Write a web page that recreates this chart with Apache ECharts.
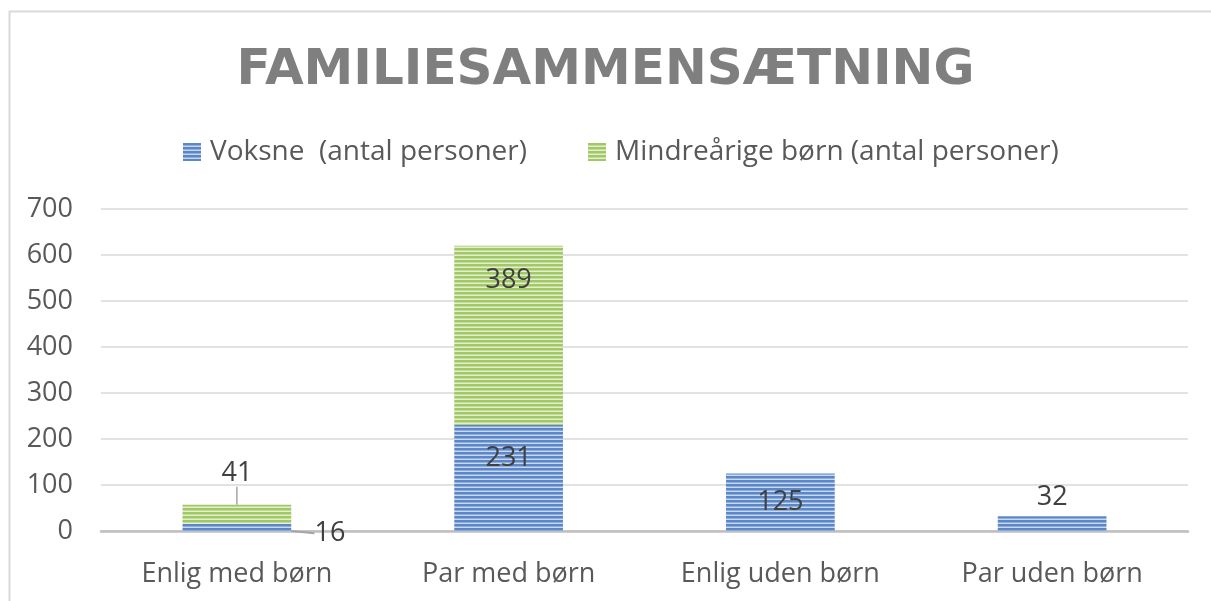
<!DOCTYPE html>
<html>
<head>
<meta charset="utf-8">
<script src="https://cdn.jsdelivr.net/npm/echarts@6/dist/echarts.min.js"></script>
<style>
html,body{margin:0;padding:0;background:#fff;}
#chart{width:1211px;height:601px;}
</style>
</head>
<body>
<div id="chart"></div>
<script>
// ---- data ----
var categories = ['Enlig med børn', 'Par med børn', 'Enlig uden børn', 'Par uden børn'];
var adults = [16, 231, 125, 32];
var children = [41, 389, 0, 0];
var seriesNames = ['Voksne  (antal personer)', 'Mindreårige børn (antal personer)'];
var yTicks = { min: 0, max: 700, interval: 100 };
var titleText = 'FAMILIESAMMENSÆTNING';

function stripe(dark, mid, light) {
  var c = document.createElement('canvas');
  c.width = 4; c.height = 4;
  var ctx = c.getContext('2d');
  ctx.fillStyle = dark; ctx.fillRect(0, 0, 4, 2);
  ctx.fillStyle = mid; ctx.fillRect(0, 2, 4, 1);
  ctx.fillStyle = light; ctx.fillRect(0, 3, 4, 1);
  return { image: c, repeat: 'repeat' };
}
var bluePattern = stripe('#5b87c9', '#8eaedc', '#c9d8ef');
var greenPattern = stripe('#a2c766', '#c2dc98', '#e3f0cf');

var FONT = '"Open Sans", sans-serif';
var labelStyle = { color: '#404040', fontSize: 27, fontFamily: FONT };
var leader = { show: true, lineStyle: { color: '#a6a6a6', width: 2 } };
var noLeader = { show: false };

var chart = echarts.init(document.getElementById('chart'));
var option = {
  backgroundColor: '#ffffff',
  animation: false,
  graphic: [{
    type: 'rect', left: 7, top: 9,
    shape: { width: 1230, height: 640 },
    style: { fill: 'none', stroke: '#d9d9d9', lineWidth: 2 },
    silent: true
  }],
  title: {
    text: titleText,
    left: 'center',
    top: 41,
    textStyle: { fontFamily: '"DejaVu Sans", sans-serif', fontWeight: 'bold', fontSize: 50, color: '#7f7f7f' }
  },
  legend: {
    top: 133,
    left: 178,
    itemWidth: 18,
    itemHeight: 18,
    itemGap: 61,
    icon: 'rect',
    textStyle: { color: '#595959', fontSize: 28, fontFamily: FONT, padding: [0, 0, 0, 4] },
    data: seriesNames
  },
  grid: { left: 101, right: 23, top: 209, bottom: 70, containLabel: false },
  xAxis: {
    type: 'category',
    data: categories,
    axisLine: { lineStyle: { color: '#bfbfbf', width: 2.5 } },
    axisTick: { show: false },
    axisLabel: { color: '#595959', fontSize: 27, fontFamily: FONT, margin: 30 }
  },
  yAxis: {
    type: 'value',
    min: yTicks.min, max: yTicks.max, interval: yTicks.interval,
    axisLine: { show: false },
    axisTick: { show: false },
    axisLabel: { color: '#595959', fontSize: 27, fontFamily: FONT, margin: 28 },
    splitLine: { lineStyle: { color: '#d9d9d9', width: 1.5 } }
  },
  series: [
    {
      name: seriesNames[0],
      type: 'bar',
      stack: 'total',
      barWidth: '40%',
      itemStyle: { color: bluePattern },
      data: adults.map(function (v, i) {
        var lbl;
        if (i === 0) lbl = { position: 'inside' };
        else if (i === 1) lbl = { position: 'insideTop', distance: 20 };
        else if (i === 2) lbl = { position: 'inside', offset: [0, 9] };
        else lbl = { position: 'top', distance: 5 };
        return { value: v, label: lbl, labelLine: i === 0 ? leader : noLeader };
      }),
      label: Object.assign({ show: true }, labelStyle),
      labelLayout: function (p) {
        if (p.dataIndex === 0) return { dx: 93, dy: 6 };
        return {};
      }
    },
    {
      name: seriesNames[1],
      type: 'bar',
      stack: 'total',
      barWidth: '40%',
      itemStyle: { color: greenPattern },
      data: children.map(function (v, i) {
        var lbl;
        if (i === 0) lbl = { position: 'top', distance: 4 };
        else lbl = { position: 'insideTop', distance: 21 };
        return { value: v, label: lbl, labelLine: i === 0 ? { show: true, lineStyle: { color: '#a6a6a6', width: 1.5 } } : noLeader };
      }),
      label: Object.assign({
        show: true,
        formatter: function (p) { return p.value ? String(p.value) : ''; }
      }, labelStyle),
      labelLayout: function (p) {
        if (p.dataIndex === 0) return { dy: -14 };
        return {};
      }
    }
  ]
};
chart.setOption(option);
</script>
</body>
</html>
